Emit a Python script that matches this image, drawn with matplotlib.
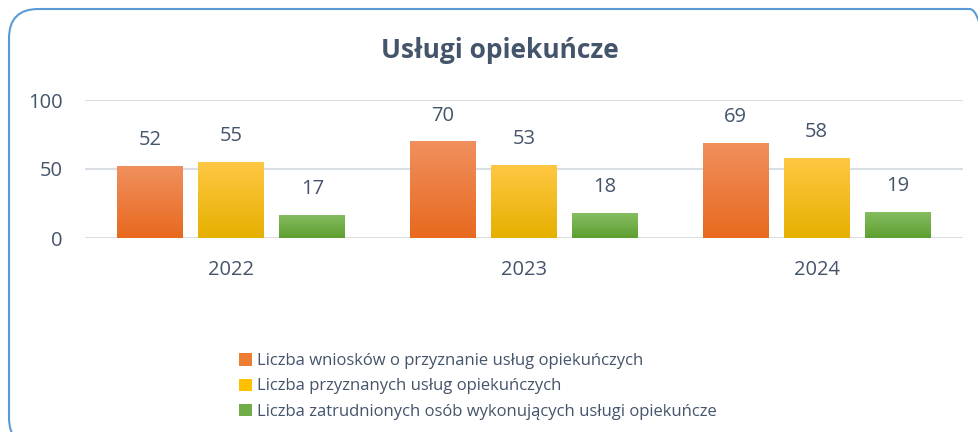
import matplotlib
matplotlib.use("Agg")
import matplotlib.pyplot as plt
import numpy as np
from matplotlib.patches import FancyBboxPatch
from matplotlib.colors import LinearSegmentedColormap

plt.rcParams['font.family'] = ['Open Sans', 'DejaVu Sans']

years = ["2022", "2023", "2024"]
series_names = [
    "Liczba wniosków o przyznanie usług opiekuńczych",
    "Liczba przyznanych usług opiekuńczych",
    "Liczba zatrudnionych osób wykonujących usługi opiekuńcze",
]
wnioski = [52, 70, 69]
przyznane = [55, 53, 58]
zatrudnieni = [17, 18, 19]
series = [wnioski, przyznane, zatrudnieni]
grad_colors = [("#F0905E", "#E8691E"), ("#FFC844", "#E6B000"), ("#86BD62", "#5E9F2F")]
solid_colors = ["#ED7D31", "#FFC000", "#70AD47"]
title = "Usługi opiekuńcze"
yticks = [0, 50, 100]
text_color = "#44546A"

W, H = 979, 432
fig = plt.figure(figsize=(W / 100, H / 100), dpi=100)

# rounded border
border = FancyBboxPatch((9 / W, -15 / H), (W + 20 - 9) / W, (H - 9 + 15) / H,
                        boxstyle="round,pad=0,rounding_size=0.03",
                        transform=fig.transFigure, facecolor="none",
                        edgecolor="#5B9BD5", linewidth=1.5, zorder=-1,
                        mutation_aspect=W / H)
fig.patches.append(border)

ax = fig.add_axes([85 / W, 1 - 238 / H, (963 - 85) / W, (238 - 100) / H])
ax.set_facecolor("none")
ax.set_xlim(-0.5, 2.5)
ax.set_ylim(0, 100)

x = np.arange(len(years))
bw = 0.225
offsets = [-0.277, 0.0, 0.277]
grad = np.linspace(0, 1, 256).reshape(-1, 1)
for vals, off, (ctop, cbot), sc, name in zip(series, offsets, grad_colors, solid_colors, series_names):
    bars = ax.bar(x + off, vals, bw, color=sc, label=name, zorder=2)
    cmap = LinearSegmentedColormap.from_list("g", [cbot, ctop])
    for b, v in zip(bars, vals):
        bx, by = b.get_x(), b.get_y()
        im = ax.imshow(grad, cmap=cmap, origin="lower", aspect="auto",
                       extent=[bx, bx + b.get_width(), by, by + b.get_height()], zorder=3)
        im.set_clip_path(b)
        ax.text(bx + b.get_width() / 2, v + 11.5, str(v), ha="center", va="bottom",
                fontsize=14.5, color=text_color, zorder=4)
ax.set_xlim(-0.5, 2.5)
ax.set_ylim(0, 100)

ax.set_yticks(yticks)
ax.set_yticklabels([str(t) for t in yticks], fontsize=14.5, color=text_color)
ax.set_xticks(x)
ax.set_xticklabels(years, fontsize=14.5, color=text_color)
ax.tick_params(axis="both", length=0)
ax.tick_params(axis="y", pad=16)
ax.tick_params(axis="x", pad=16)
ax.grid(axis="y", color="#D9DEE5", linewidth=1.5, zorder=0)
ax.set_axisbelow(True)
for s in ax.spines.values():
    s.set_visible(False)

fig.text(500 / W, 1 - 50 / H, title, ha="center", va="center", fontsize=19,
         fontweight="bold", color=text_color)

handles, labels = ax.get_legend_handles_labels()
leg = fig.legend(handles, labels, loc="upper left", bbox_to_anchor=(226 / W, 1 - 340 / H),
                 frameon=False, fontsize=12, labelcolor=text_color,
                 handlelength=0.75, handleheight=0.75, handletextpad=0.3, labelspacing=0.55,
                 borderpad=0.3)

fig.savefig("out.png", dpi=100)
